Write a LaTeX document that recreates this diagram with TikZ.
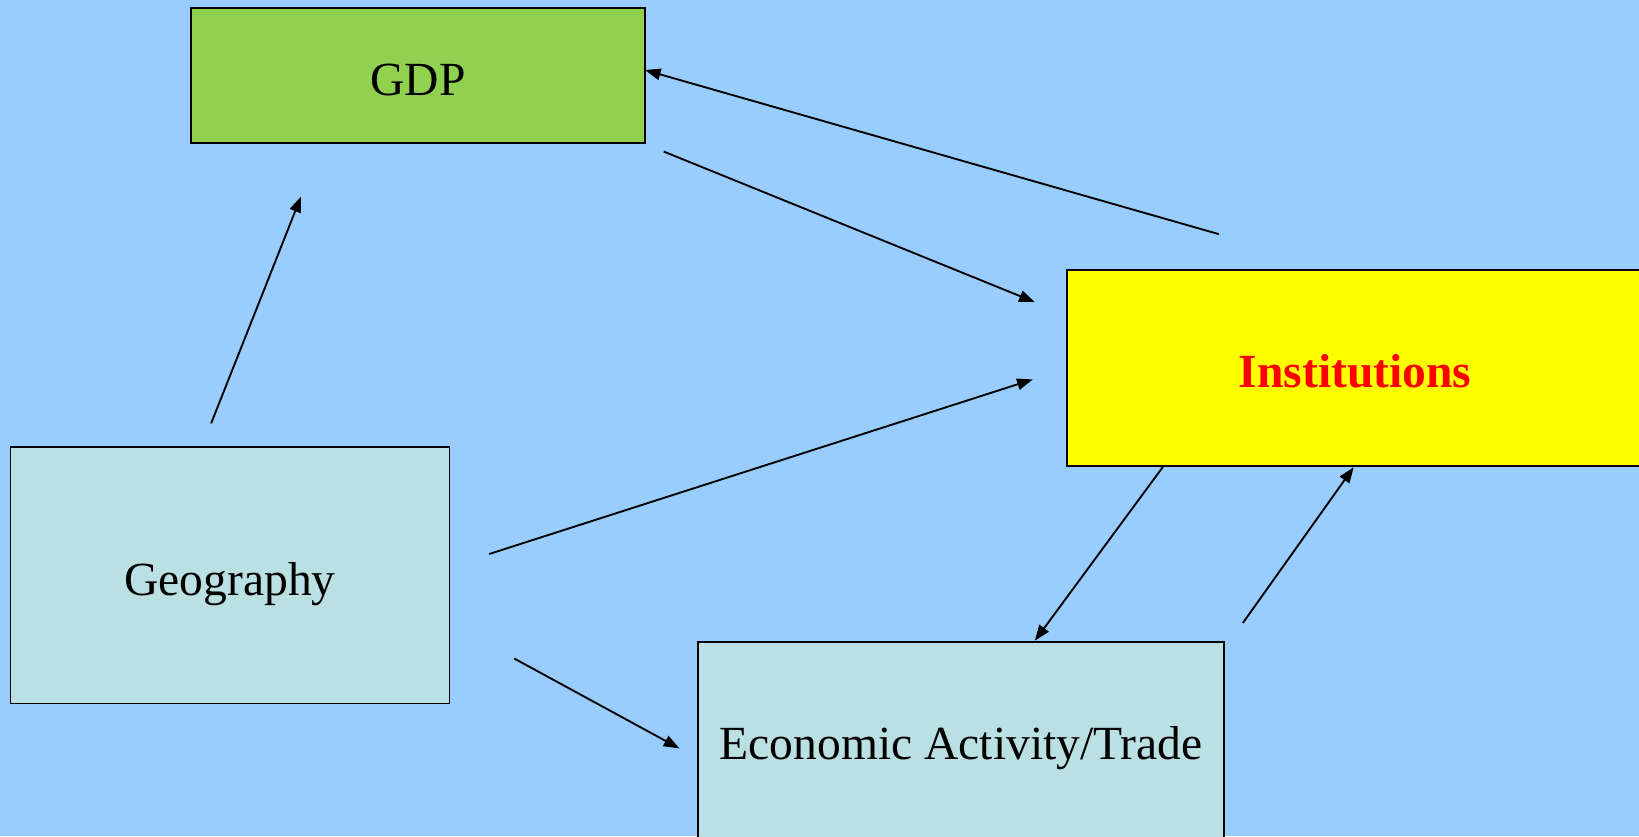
\documentclass[tikz,border=0pt]{standalone}
\usepackage{fontspec}
\setmainfont{Liberation Serif}
\usetikzlibrary{arrows.meta}
\definecolor{bgblue}{HTML}{99CCFF}
\definecolor{gdpgreen}{HTML}{92D050}
\definecolor{instyellow}{HTML}{FFFF00}
\definecolor{paleteal}{HTML}{BAE0E3}
\definecolor{instred}{HTML}{FF0000}
\tikzset{
  box/.style={draw=black, line width=1.8pt, inner sep=0pt, text height=38pt, text depth=0pt,
    font=\fontsize{45.5}{54}\selectfont},
  arr/.style={draw=black, line width=1.8pt, -{Triangle[length=15pt,width=11pt]}}
}
\begin{document}
\begin{tikzpicture}[x=1pt,y=-1pt]
\useasboundingbox (0,0) rectangle (1568,800);
\fill[bgblue] (0,0) rectangle (1568,800);
\begin{scope}
\clip (0,0) rectangle (1568,800);
\node[box, fill=gdpgreen, minimum width=434pt, minimum height=129pt] (gdp) at (400,72.5) {GDP};
\node[box, fill=instyellow, minimum width=551pt, minimum height=188pt, text=instred,
  font=\fontsize{45.5}{54}\selectfont\bfseries] (inst) at (1296.5,352) {Institutions};
\node[box, fill=paleteal, minimum width=420pt, minimum height=245pt] (geo) at (220,550.5) {Geography};
\node[box, fill=paleteal, minimum width=503pt, minimum height=196pt, text height=30pt] (econ) at (919.5,712) {Economic Activity/Trade};
\end{scope}
% free connector ends
\coordinate (a1s) at (202,405);
\coordinate (a1e) at (288,188);
\coordinate (a2s) at (635,145);
\coordinate (a2e) at (990,289);
\coordinate (a3s) at (1166,224);
\coordinate (a3e) at (617,67);
\coordinate (a4s) at (468,530);
\coordinate (a4e) at (988,363);
\coordinate (a5s) at (492,630);
\coordinate (a5e) at (650,716);
\coordinate (a6s) at (1113,446);
\coordinate (a6e) at (990,613);
\coordinate (a7s) at (1189,596);
\coordinate (a7e) at (1295,447);
\draw[arr] (a1s) -- (a1e);
\draw[arr] (a2s) -- (a2e);
\draw[arr] (a3s) -- (a3e);
\draw[arr] (a4s) -- (a4e);
\draw[arr] (a5s) -- (a5e);
\draw[arr] (a6s) -- (a6e);
\draw[arr] (a7s) -- (a7e);
\end{tikzpicture}
\end{document}
